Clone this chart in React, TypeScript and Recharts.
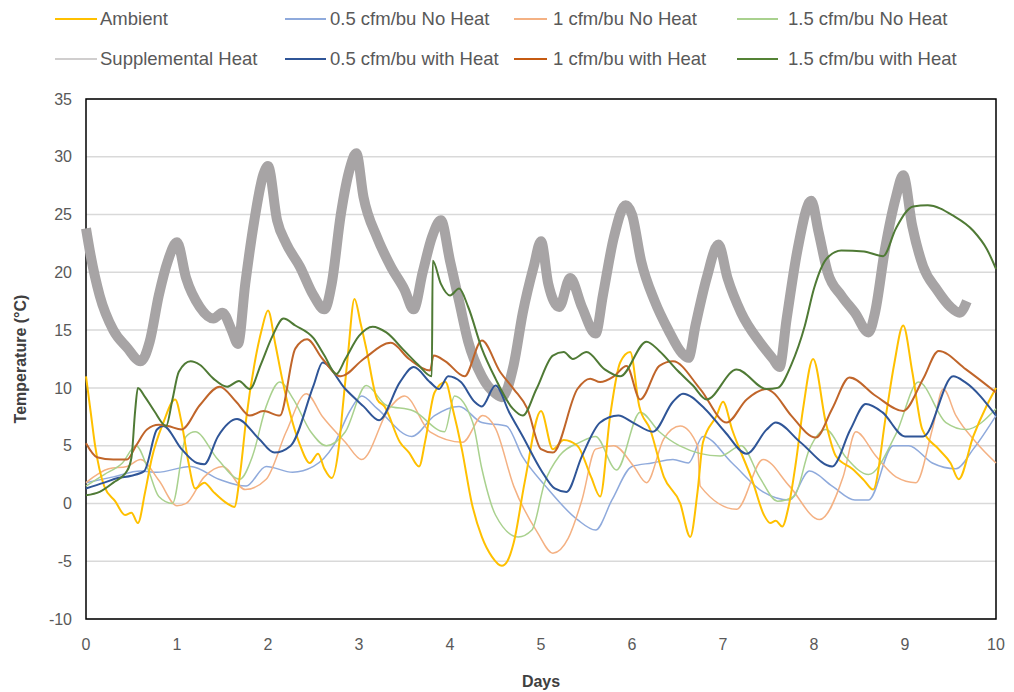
import { LineChart, Line, XAxis, YAxis, CartesianGrid, ReferenceArea } from "recharts"

// [day, °C] pairs
const ambient = [
  [0, 11], [0.05, 8], [0.1, 5], [0.2, 1.5], [0.32, 0.2], [0.43, -1], [0.5, -0.8], [0.57, -1.7],
  [0.65, 1], [0.72, 3.8], [0.85, 7], [0.98, 9], [1.05, 7], [1.12, 3.8], [1.2, 1.3], [1.3, 1.8],
  [1.4, 1], [1.55, 0], [1.63, -0.3], [1.7, 3], [1.76, 7.3], [1.85, 12], [1.93, 15], [2.0, 16.7],
  [2.08, 13.8], [2.15, 11], [2.23, 8.2], [2.35, 5.1], [2.46, 3.5], [2.55, 4.3], [2.62, 3], [2.7, 2.2],
  [2.78, 5], [2.82, 8.2], [2.88, 13], [2.95, 17.7], [3.02, 15.5], [3.08, 13.4], [3.2, 9], [3.28, 8.4],
  [3.45, 5.3], [3.55, 4.4], [3.66, 3.2], [3.73, 5.5], [3.83, 9.6], [3.95, 10.5], [4.03, 8.2],
  [4.13, 4.7], [4.24, 0], [4.35, -2.9], [4.46, -4.6], [4.57, -5.4], [4.63, -5], [4.7, -3.4],
  [4.82, 1.8], [5.0, 8], [5.13, 4.7], [5.25, 5.5], [5.4, 5], [5.55, 2.3], [5.65, 0.6], [5.76, 7.6],
  [5.87, 12.2], [5.98, 13.1], [6.08, 8.4], [6.2, 6.4], [6.35, 2.3], [6.53, 0], [6.64, -2.9],
  [6.72, 1], [6.78, 5.3], [6.93, 7.6], [7.0, 8.8], [7.1, 6.4], [7.33, 1.8], [7.45, -1], [7.52, -1.7],
  [7.58, -1.5], [7.65, -2], [7.72, -0.3], [7.8, 3.5], [7.88, 8.2], [7.99, 12.5], [8.13, 7],
  [8.24, 4.1], [8.42, 3], [8.55, 2], [8.65, 1.2], [8.79, 7.6], [8.88, 12], [8.98, 15.4],
  [9.08, 11.4], [9.19, 6.4], [9.37, 4.7], [9.5, 3.5], [9.59, 2.1], [9.75, 5.8], [9.9, 8.5], [10, 10],
]

const noHeat05 = [
  [0, 1.8], [0.3, 2.3], [0.6, 2.8], [0.78, 2.7], [1.15, 3.2], [1.46, 2.1], [1.76, 1.5], [1.98, 3.2],
  [2.27, 2.7], [2.5, 3.2], [2.72, 5], [2.9, 8], [3.03, 9.3], [3.2, 8.2], [3.58, 5.8], [3.83, 7.6],
  [4.1, 8.4], [4.35, 7], [4.62, 6.7], [4.8, 4], [5.05, 1.5], [5.4, -1.4], [5.6, -2.3], [5.78, 0.3],
  [6.0, 3.2], [6.22, 3.5], [6.45, 3.8], [6.62, 3.5], [6.78, 5.8], [7.1, 3.5], [7.44, 1], [7.73, 0.3],
  [7.95, 2.8], [8.2, 1.5], [8.45, 0.3], [8.6, 0.3], [8.87, 5], [9.04, 5], [9.3, 3.5], [9.56, 3],
  [9.75, 4.7], [10, 7.6],
]

const noHeat1 = [
  [0, 1.8], [0.25, 3], [0.45, 3.2], [0.6, 3.8], [0.8, 2], [1.0, -0.2], [1.1, 0], [1.3, 2.3],
  [1.5, 3.2], [1.75, 1.2], [1.98, 2.1], [2.2, 6.2], [2.42, 9.5], [2.6, 7.5], [2.85, 5.3], [3.03, 3.8],
  [3.33, 8.2], [3.5, 9.3], [3.78, 6.2], [4.14, 5.3], [4.36, 7.6], [4.5, 6.5], [4.7, 1.5],
  [4.96, -2.5], [5.13, -4.3], [5.3, -3], [5.45, 0.3], [5.6, 4.7], [5.8, 5], [6.02, 3.2], [6.16, 1.8],
  [6.35, 5.6], [6.53, 6.7], [6.72, 5], [6.75, 1.5], [7.15, -0.5], [7.44, 3.8], [7.73, 1.5],
  [8.06, -1.4], [8.32, 2.3], [8.46, 6.2], [8.68, 4.1], [8.9, 2.3], [9.12, 1.8], [9.3, 6.4],
  [9.42, 9.9], [9.56, 7.6], [9.78, 5.3], [10, 3.5],
]

const noHeat15 = [
  [0, 1.5], [0.2, 2.5], [0.4, 3.5], [0.55, 5], [0.68, 3], [0.8, 0.6], [0.95, 0], [1.1, 5.8],
  [1.2, 6.2], [1.45, 3.8], [1.69, 2.1], [1.83, 4.1], [1.98, 8.4], [2.13, 10.5], [2.28, 9],
  [2.47, 6.2], [2.64, 5], [2.85, 6.2], [3.08, 10.2], [3.3, 8.5], [3.6, 8], [3.94, 6.2], [4.05, 9.3],
  [4.25, 7], [4.35, 3], [4.5, -1], [4.75, -2.9], [4.9, -2.3], [5.04, 1.8], [5.2, 4.1], [5.43, 5.3],
  [5.6, 5.8], [5.83, 2.9], [6.09, 7.9], [6.3, 6.2], [6.52, 5], [6.97, 4.1], [7.2, 5], [7.4, 2.3],
  [7.6, 0.2], [7.78, 0.6], [7.95, 4.7], [8.13, 6.4], [8.35, 4], [8.6, 2.5], [8.9, 6], [9.15, 10.5],
  [9.45, 7], [9.67, 6.4], [10, 8.2],
]

const suppHeat = [
  [0, 23.8], [0.05, 21.5], [0.15, 18], [0.3, 15], [0.45, 13.5], [0.6, 12.3], [0.7, 14], [0.8, 18],
  [0.9, 21], [1.0, 22.6], [1.1, 19.5], [1.25, 17], [1.4, 16], [1.5, 16.5], [1.6, 15], [1.67, 13.8],
  [1.75, 19], [1.85, 24.5], [1.95, 28.5], [2.0, 29.2], [2.1, 24.5], [2.2, 22.5], [2.35, 20.5],
  [2.5, 18], [2.62, 16.8], [2.7, 19], [2.8, 25], [2.9, 29], [2.97, 30.3], [3.05, 26.5], [3.2, 23],
  [3.35, 20.5], [3.5, 18.5], [3.6, 16.8], [3.7, 20], [3.8, 23], [3.9, 24.5], [4.0, 21], [4.1, 17.5],
  [4.2, 14], [4.35, 11], [4.5, 9.5], [4.57, 9.2], [4.7, 12], [4.8, 16.5], [4.92, 20.5], [5.0, 22.7],
  [5.08, 19], [5.2, 17], [5.32, 19.5], [5.45, 17], [5.6, 14.7], [5.68, 18], [5.8, 23], [5.93, 25.8],
  [6.0, 25], [6.1, 21], [6.25, 17.5], [6.4, 15], [6.55, 13], [6.62, 12.6], [6.7, 15.5], [6.82, 19.5],
  [6.95, 22.4], [7.05, 19.5], [7.2, 16.5], [7.4, 14], [7.55, 12.5], [7.62, 11.8], [7.7, 16],
  [7.82, 22], [7.97, 26.2], [8.05, 23.5], [8.15, 20], [8.3, 18], [8.45, 16.5], [8.6, 14.8],
  [8.67, 16.5], [8.78, 22], [8.9, 26.5], [8.98, 28.4], [9.08, 24], [9.2, 20.5], [9.35, 18.5],
  [9.5, 17], [9.6, 16.5], [9.68, 17.5],
]

const heat05 = [
  [0, 1.3], [0.2, 1.8], [0.35, 2.2], [0.5, 2.4], [0.64, 2.8], [0.78, 6.4], [0.85, 6.7], [1.05, 4.7],
  [1.22, 3.5], [1.3, 3.4], [1.45, 5.8], [1.66, 7.3], [1.9, 5.6], [2.07, 4.4], [2.25, 5], [2.5, 10.2],
  [2.6, 12.2], [2.85, 9.9], [3.05, 8.4], [3.22, 7.2], [3.45, 10.5], [3.6, 11.8], [3.78, 10.5],
  [3.88, 9.9], [3.98, 11], [4.12, 10.5], [4.27, 8.8], [4.35, 8.4], [4.5, 10.2], [4.65, 7.9],
  [4.8, 5.8], [5.0, 2.9], [5.15, 1.3], [5.28, 1], [5.45, 4.1], [5.65, 7], [5.85, 7.6], [6.01, 7],
  [6.23, 6.2], [6.45, 8.8], [6.56, 9.5], [6.8, 8.2], [7.02, 6.2], [7.26, 4.3], [7.48, 6.4],
  [7.58, 7], [7.85, 5.3], [8.2, 3.2], [8.4, 6.4], [8.57, 8.6], [8.75, 7.9], [9.0, 5.8], [9.2, 5.8],
  [9.53, 11], [9.66, 10.5], [10, 7.6],
]

const heat1 = [
  [0, 5.2], [0.12, 4], [0.3, 3.8], [0.45, 3.8], [0.55, 5], [0.67, 6.4], [0.8, 6.8], [0.9, 6.7],
  [1.05, 6.4], [1.25, 8.5], [1.47, 10.1], [1.65, 8.8], [1.8, 7.6], [1.95, 8], [2.13, 7.6], [2.3, 13.4],
  [2.43, 14.2], [2.6, 12.5], [2.8, 11], [3.05, 12.5], [3.35, 13.9], [3.55, 12.5], [3.78, 11.5],
  [3.82, 12.8], [3.95, 12.3], [4.16, 11], [4.35, 14.1], [4.55, 11.4], [4.7, 9.9], [4.85, 8.2],
  [5.0, 4.7], [5.13, 4.4], [5.4, 9.9], [5.54, 10.8], [5.65, 10.5], [5.8, 11], [5.94, 11.9],
  [6.09, 9], [6.3, 11.9], [6.45, 12.3], [6.75, 9.9], [7.04, 7], [7.26, 9], [7.48, 9.9], [7.55, 9.6],
  [7.75, 7.6], [8.02, 5.7], [8.2, 8.2], [8.39, 10.9], [8.68, 9.3], [8.98, 8], [9.2, 10.8],
  [9.37, 13.2], [9.67, 11.6], [10, 9.6],
]

const heat15 = [
  [0, 0.7], [0.15, 1], [0.3, 1.8], [0.45, 2.8], [0.5, 4], [0.54, 8], [0.57, 10], [0.65, 9.2],
  [0.75, 8], [0.88, 6.7], [0.95, 9], [1.02, 11.4], [1.15, 12.3], [1.25, 12], [1.4, 10.8], [1.55, 10.1],
  [1.68, 10.6], [1.8, 9.9], [1.92, 12], [2.05, 14.5], [2.17, 16], [2.3, 15.4], [2.5, 14.3],
  [2.62, 12.8], [2.75, 11.2], [2.85, 12.5], [3.0, 14.5], [3.15, 15.3], [3.3, 14.8], [3.5, 13.2],
  [3.65, 12], [3.8, 11], [3.81, 21], [3.9, 19], [4.0, 18], [4.1, 18.6], [4.2, 17], [4.35, 13.4],
  [4.5, 10.8], [4.69, 8.2], [4.8, 7.6], [4.95, 9.9], [5.13, 12.8], [5.25, 13.1], [5.35, 12.5],
  [5.5, 13.1], [5.7, 11.6], [5.87, 11], [6.16, 14], [6.3, 13.2], [6.5, 11.5], [6.67, 10.2],
  [6.82, 9], [7.15, 11.6], [7.48, 9.9], [7.6, 10], [7.75, 12], [7.9, 15.4], [8.0, 18.6],
  [8.14, 21.2], [8.3, 21.9], [8.55, 21.8], [8.76, 21.4], [8.9, 23.8], [9.09, 25.7], [9.25, 25.8],
  [9.53, 24.9], [9.75, 23.6], [9.9, 22], [10, 20.3],
]

const xTicks = [0, 1, 2, 3, 4, 5, 6, 7, 8, 9, 10]
const yTicks = [-10, -5, 0, 5, 10, 15, 20, 25, 30, 35]

const toPts = (arr: number[][]) => arr.map(([d, v]) => ({ d, v }))

const FONT = "'Liberation Sans', Arial, sans-serif"

const legendItems = [
  { name: "Ambient", color: "#ffc000", x1: 55, x2: 97, tx: 100, row: 0 },
  { name: "0.5 cfm/bu No Heat", color: "#8faadc", x1: 285, x2: 326, tx: 330, row: 0 },
  { name: "1 cfm/bu No Heat", color: "#f4b183", x1: 514, x2: 547, tx: 553, row: 0 },
  { name: "1.5 cfm/bu No Heat", color: "#a9d18e", x1: 737, x2: 778, tx: 788, row: 0 },
  { name: "Supplemental Heat", color: "#d0cece", x1: 55, x2: 97, tx: 100, row: 1 },
  { name: "0.5 cfm/bu with Heat", color: "#2f5597", x1: 285, x2: 326, tx: 330, row: 1 },
  { name: "1 cfm/bu with Heat", color: "#c55a11", x1: 514, x2: 547, tx: 553, row: 1 },
  { name: "1.5 cfm/bu with Heat", color: "#548235", x1: 737, x2: 778, tx: 788, row: 1 },
]

function TopLegend() {
  return (
    <div style={{ position: "absolute", left: 0, top: 0, width: 1014, height: 80, fontFamily: FONT }}>
      {legendItems.map((it) => {
        const cy = it.row === 0 ? 19 : 59
        return (
          <div key={it.name}>
            <div style={{ position: "absolute", left: it.x1, top: cy - 1, width: it.x2 - it.x1, height: 2, background: it.color }} />
            <div style={{ position: "absolute", left: it.tx, top: cy - 11, height: 22, lineHeight: "22px", fontSize: 18.5, color: "#595959", whiteSpace: "nowrap" }}>
              {it.name}
            </div>
          </div>
        )
      })}
    </div>
  )
}

export default function App() {
  return (
    <div style={{ position: "absolute", left: 0, top: 0, width: 1014, height: 692, background: "#fff" }}>
      <LineChart width={1014} height={692} margin={{ top: 99, right: 18, bottom: 13, left: 0 }}>
        <CartesianGrid vertical={false} stroke="#d9d9d9" strokeWidth={1.5} />
        <XAxis
          type="number"
          dataKey="d"
          domain={[0, 10]}
          ticks={xTicks}
          height={60}
          tickLine={false}
          tickSize={0}
          tickMargin={20}
          axisLine={false}
          tick={{ fill: "#595959", fontSize: 16, fontFamily: FONT }}
          label={{ value: "Days", position: "insideBottom", offset: -8, style: { fontWeight: "bold", fontSize: 16, fill: "#404040", fontFamily: FONT } }}
        />
        <YAxis
          type="number"
          domain={[-10, 35]}
          ticks={yTicks}
          width={86}
          tickLine={false}
          tickSize={0}
          tickMargin={14}
          axisLine={false}
          tick={{ fill: "#595959", fontSize: 16, fontFamily: FONT }}
          label={{ value: "Temperature (°C)", angle: -90, position: "insideLeft", offset: 20, style: { textAnchor: "middle", fontWeight: "bold", fontSize: 16, fill: "#404040", fontFamily: FONT } }}
        />
        <Line data={toPts(suppHeat)} dataKey="v" type="monotone" stroke="#a7a4a5" strokeWidth={10} strokeLinejoin="round" dot={false} isAnimationActive={false} />
        <Line data={toPts(noHeat05)} dataKey="v" type="monotone" stroke="#8faadc" strokeWidth={1.5} dot={false} isAnimationActive={false} />
        <Line data={toPts(noHeat1)} dataKey="v" type="monotone" stroke="#f4b183" strokeWidth={1.5} dot={false} isAnimationActive={false} />
        <Line data={toPts(noHeat15)} dataKey="v" type="monotone" stroke="#a9d18e" strokeWidth={1.5} dot={false} isAnimationActive={false} />
        <Line data={toPts(ambient)} dataKey="v" type="monotone" stroke="#ffc000" strokeWidth={2} dot={false} isAnimationActive={false} />
        <Line data={toPts(heat05)} dataKey="v" type="monotone" stroke="#2f5597" strokeWidth={2} dot={false} isAnimationActive={false} />
        <Line data={toPts(heat1)} dataKey="v" type="monotone" stroke="#c0652a" strokeWidth={2} dot={false} isAnimationActive={false} />
        <Line data={toPts(heat15)} dataKey="v" type="monotone" stroke="#4f7a35" strokeWidth={2} dot={false} isAnimationActive={false} />
        <ReferenceArea x1={0} x2={10} y1={-10} y2={35} fill="none" stroke="#000" strokeWidth={1.5} ifOverflow="extendDomain" />
      </LineChart>
      <TopLegend />
    </div>
  )
}
